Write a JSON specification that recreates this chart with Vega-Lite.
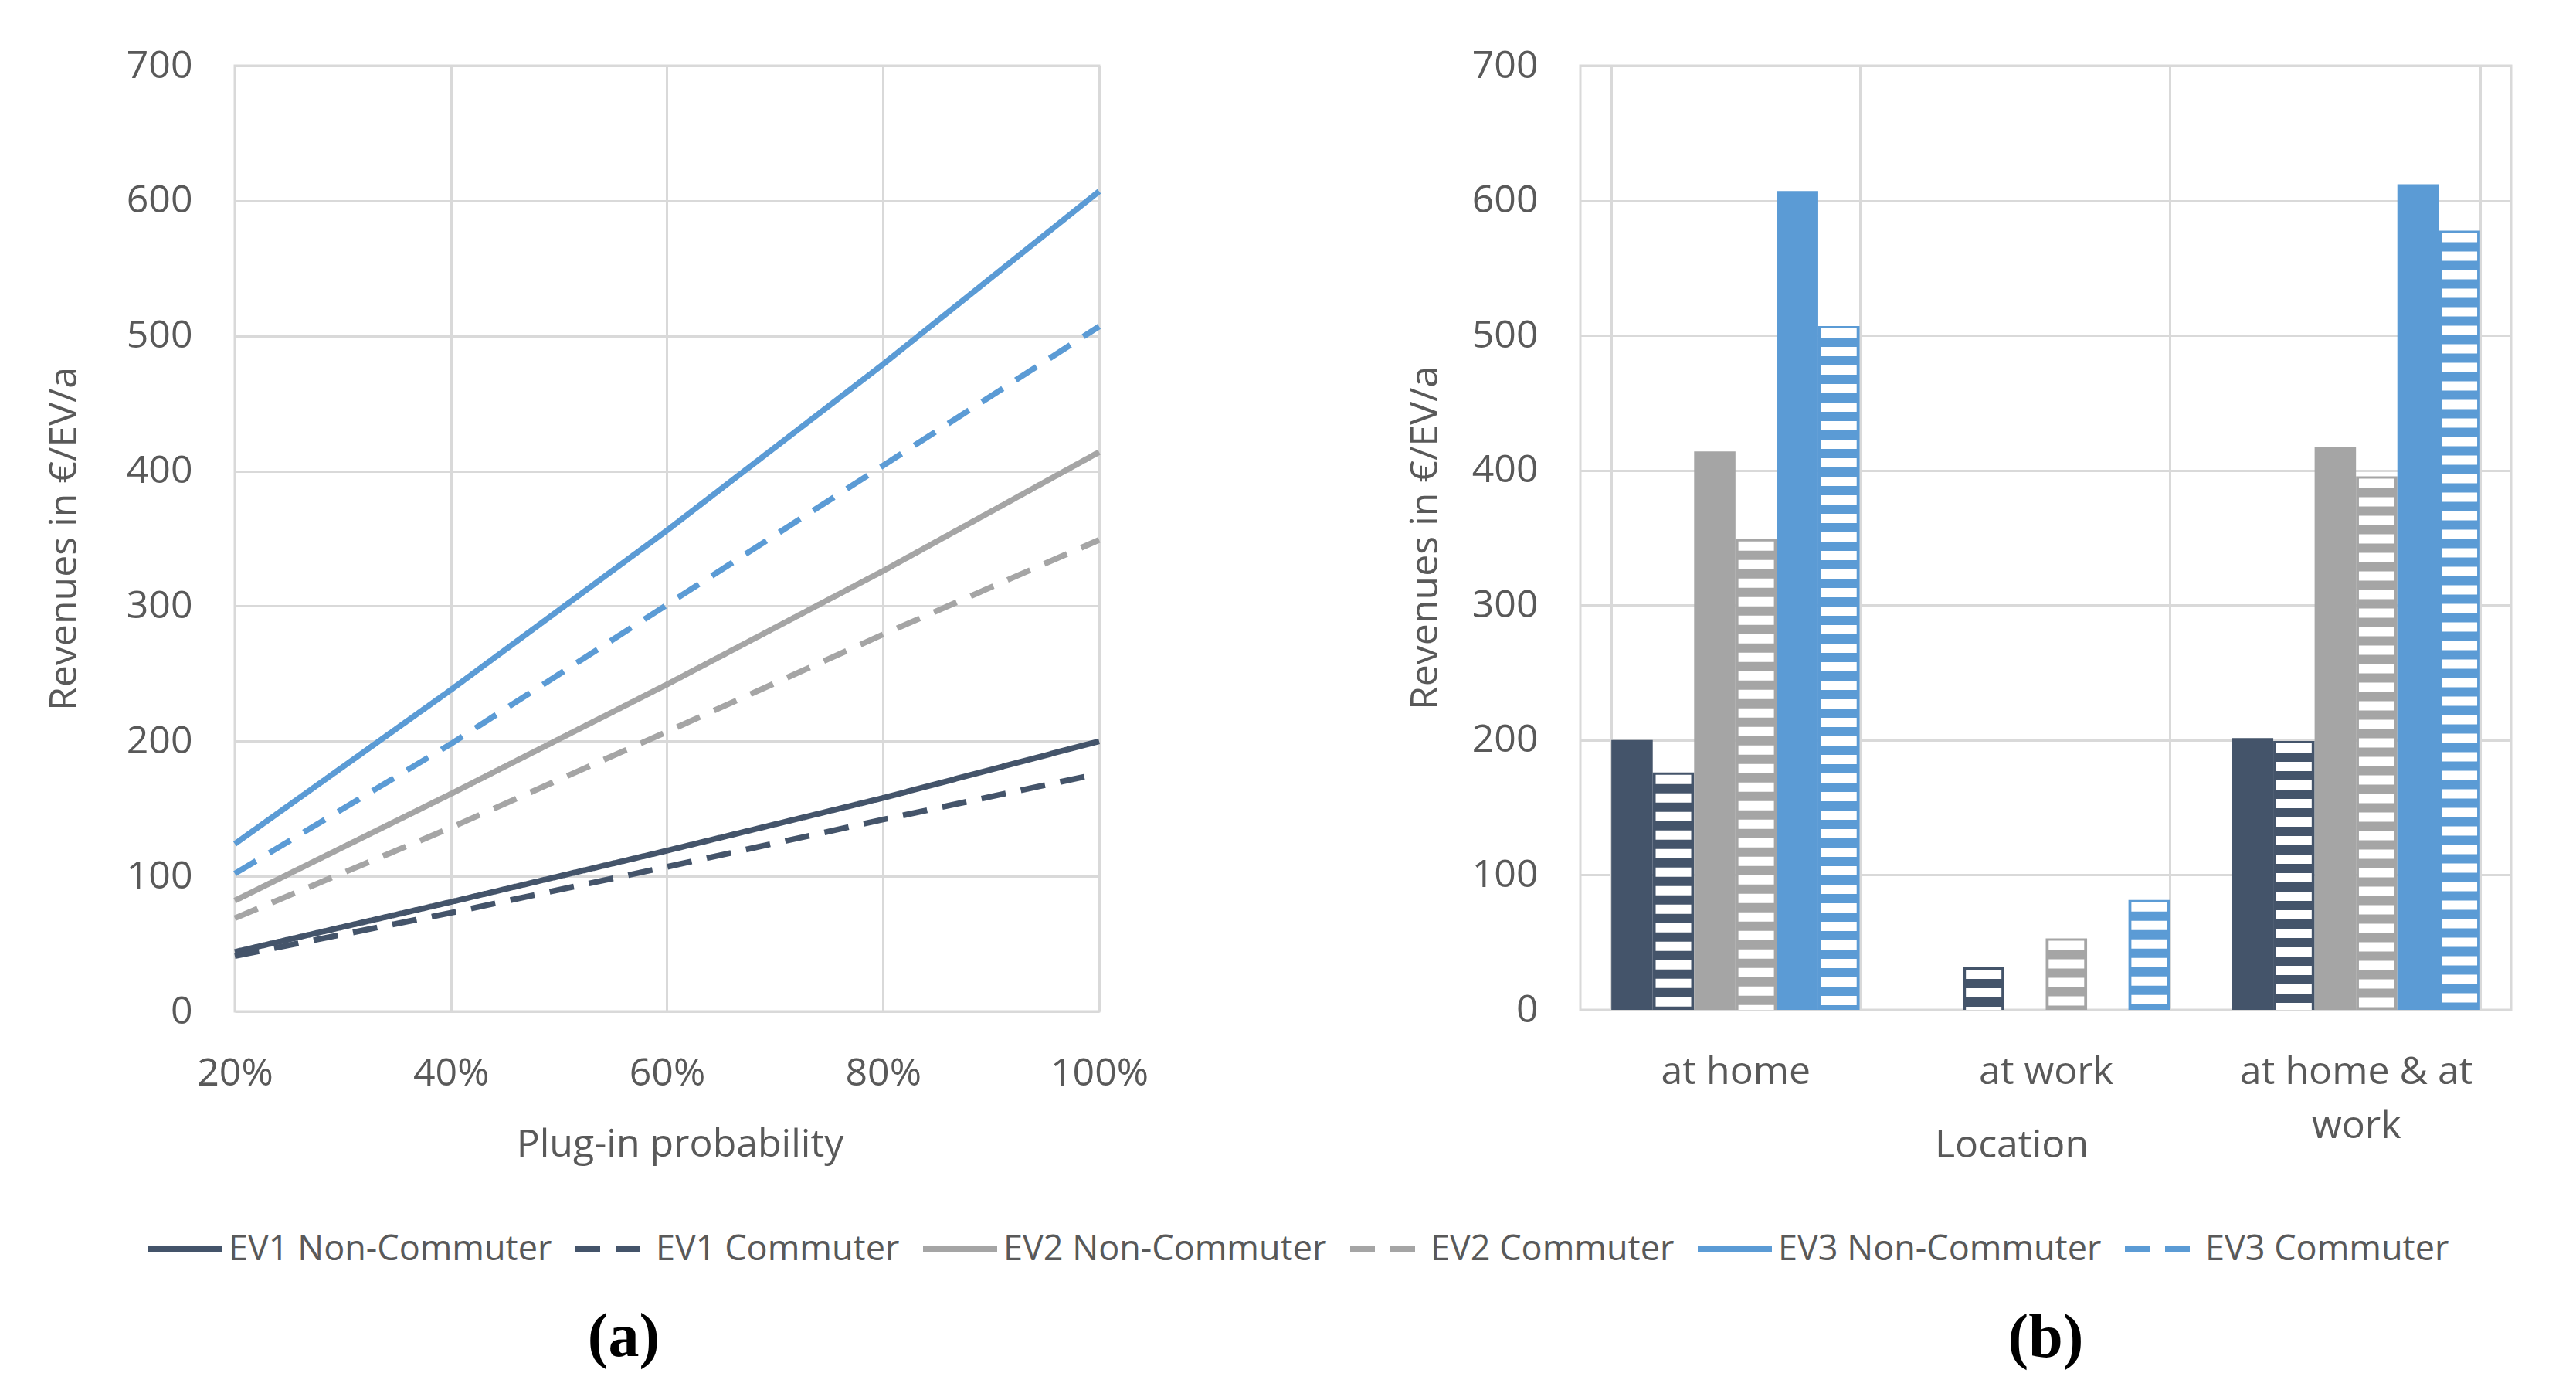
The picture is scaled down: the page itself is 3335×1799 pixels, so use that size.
{
  "$schema": "https://vega.github.io/schema/vega-lite/v6.json",
  "background": "white",
  "padding": {"left": 56, "top": 58, "right": 10, "bottom": 10},
  "datasets": {
    "lines": [
      {"p": 0.2, "series": "EV1 Non-Commuter", "v": 44},
      {"p": 0.4, "series": "EV1 Non-Commuter", "v": 81},
      {"p": 0.6, "series": "EV1 Non-Commuter", "v": 119},
      {"p": 0.8, "series": "EV1 Non-Commuter", "v": 158},
      {"p": 1.0, "series": "EV1 Non-Commuter", "v": 200},
      {"p": 0.2, "series": "EV1 Commuter", "v": 41},
      {"p": 0.4, "series": "EV1 Commuter", "v": 73},
      {"p": 0.6, "series": "EV1 Commuter", "v": 107},
      {"p": 0.8, "series": "EV1 Commuter", "v": 142},
      {"p": 1.0, "series": "EV1 Commuter", "v": 176},
      {"p": 0.2, "series": "EV2 Non-Commuter", "v": 82},
      {"p": 0.4, "series": "EV2 Non-Commuter", "v": 161},
      {"p": 0.6, "series": "EV2 Non-Commuter", "v": 242},
      {"p": 0.8, "series": "EV2 Non-Commuter", "v": 326},
      {"p": 1.0, "series": "EV2 Non-Commuter", "v": 414},
      {"p": 0.2, "series": "EV2 Commuter", "v": 69},
      {"p": 0.4, "series": "EV2 Commuter", "v": 136},
      {"p": 0.6, "series": "EV2 Commuter", "v": 207},
      {"p": 0.8, "series": "EV2 Commuter", "v": 279},
      {"p": 1.0, "series": "EV2 Commuter", "v": 349},
      {"p": 0.2, "series": "EV3 Non-Commuter", "v": 124},
      {"p": 0.4, "series": "EV3 Non-Commuter", "v": 238},
      {"p": 0.6, "series": "EV3 Non-Commuter", "v": 356},
      {"p": 0.8, "series": "EV3 Non-Commuter", "v": 479},
      {"p": 1.0, "series": "EV3 Non-Commuter", "v": 607},
      {"p": 0.2, "series": "EV3 Commuter", "v": 102},
      {"p": 0.4, "series": "EV3 Commuter", "v": 198},
      {"p": 0.6, "series": "EV3 Commuter", "v": 301},
      {"p": 0.8, "series": "EV3 Commuter", "v": 404},
      {"p": 1.0, "series": "EV3 Commuter", "v": 507}
    ],
    "bars": [
      {"loc": "at home", "series": "EV1 Non-Commuter", "v": 200, "hatch": false},
      {"loc": "at home", "series": "EV1 Commuter", "v": 176, "hatch": true},
      {"loc": "at home", "series": "EV2 Non-Commuter", "v": 414, "hatch": false},
      {"loc": "at home", "series": "EV2 Commuter", "v": 349, "hatch": true},
      {"loc": "at home", "series": "EV3 Non-Commuter", "v": 607, "hatch": false},
      {"loc": "at home", "series": "EV3 Commuter", "v": 507, "hatch": true},
      {"loc": "at work", "series": "EV1 Non-Commuter", "v": 0, "hatch": false},
      {"loc": "at work", "series": "EV1 Commuter", "v": 31.5, "hatch": true},
      {"loc": "at work", "series": "EV2 Non-Commuter", "v": 0, "hatch": false},
      {"loc": "at work", "series": "EV2 Commuter", "v": 53, "hatch": true},
      {"loc": "at work", "series": "EV3 Non-Commuter", "v": 0, "hatch": false},
      {"loc": "at work", "series": "EV3 Commuter", "v": 81.5, "hatch": true},
      {"loc": "at home & at work", "series": "EV1 Non-Commuter", "v": 201.5, "hatch": false},
      {"loc": "at home & at work", "series": "EV1 Commuter", "v": 199.3, "hatch": true},
      {"loc": "at home & at work", "series": "EV2 Non-Commuter", "v": 417.4, "hatch": false},
      {"loc": "at home & at work", "series": "EV2 Commuter", "v": 395.5, "hatch": true},
      {"loc": "at home & at work", "series": "EV3 Non-Commuter", "v": 612, "hatch": false},
      {"loc": "at home & at work", "series": "EV3 Commuter", "v": 577.7, "hatch": true}
    ]
  },
  "hconcat": [
    {
      "width": 1119,
      "height": 1224,
      "title": {"text": "(a)", "orient": "bottom", "anchor": "middle", "font": "Liberation Serif", "fontSize": 80, "fontWeight": "bold", "color": "black", "offset": 186, "dx": -56},
      "data": {"name": "lines"},
      "mark": {"type": "line", "strokeWidth": 7.5},
      "encoding": {
        "x": {
          "field": "p", "type": "quantitative",
          "scale": {"domain": [0.2, 1], "nice": false, "zero": false},
          "axis": {"values": [0.2, 0.4, 0.6, 0.8, 1], "format": ".0%", "title": "Plug-in probability", "labelPadding": 55, "labelFlush": false, "titleX": 576, "titleY": 172, "titleBaseline": "middle"}
        },
        "y": {
          "field": "v", "type": "quantitative",
          "scale": {"domain": [0, 700], "nice": false},
          "axis": {"values": [0, 100, 200, 300, 400, 500, 600, 700], "title": "Revenues in €/EV/a", "labelPadding": 55, "titlePadding": 55}
        },
        "color": {
          "field": "series", "type": "nominal", "title": null,
          "scale": {
            "domain": ["EV1 Non-Commuter", "EV1 Commuter", "EV2 Non-Commuter", "EV2 Commuter", "EV3 Non-Commuter", "EV3 Commuter"],
            "range": ["#44546A", "#44546A", "#A5A5A5", "#A5A5A5", "#5B9BD5", "#5B9BD5"]
          }
        },
        "strokeDash": {
          "field": "series", "type": "nominal", "title": null,
          "scale": {
            "domain": ["EV1 Non-Commuter", "EV1 Commuter", "EV2 Non-Commuter", "EV2 Commuter", "EV3 Non-Commuter", "EV3 Commuter"],
            "range": [[1, 0], [32, 20], [1, 0], [32, 20], [1, 0], [32, 20]]
          }
        }
      }
    },
    {
      "width": 1205,
      "height": 1222,
      "title": {"text": "(b)", "orient": "bottom", "anchor": "middle", "font": "Liberation Serif", "fontSize": 80, "fontWeight": "bold", "color": "black", "offset": 186},
      "data": {"name": "bars"},
      "encoding": {
        "x": {
          "field": "loc", "type": "nominal", "sort": null,
          "scale": {"paddingInner": 0.2, "paddingOuter": 0.1},
          "axis": {"title": "Location", "labelAngle": 0, "labelPadding": 55, "labelLineHeight": 70, "labelLimit": 1000, "tickBand": "extent", "labelExpr": "datum.label == 'at home & at work' ? ['at home & at', 'work'] : datum.label", "titleX": 558, "titleY": 175, "titleBaseline": "middle"}
        },
        "xOffset": {
          "field": "series", "type": "nominal", "sort": null,
          "scale": {"domain": ["EV1 Non-Commuter", "EV1 Commuter", "EV2 Non-Commuter", "EV2 Commuter", "EV3 Non-Commuter", "EV3 Commuter"], "paddingInner": 0, "paddingOuter": 0}
        },
        "y": {
          "field": "v", "type": "quantitative",
          "scale": {"domain": [0, 700], "nice": false},
          "axis": {"values": [0, 100, 200, 300, 400, 500, 600, 700], "title": "Revenues in €/EV/a", "labelPadding": 55, "titlePadding": 35}
        }
      },
      "layer": [
        {
          "mark": {"type": "bar"},
          "encoding": {
            "color": {"field": "series", "type": "nominal", "title": null}
          }
        },
        {
          "transform": [{"filter": "datum.hatch"}],
          "mark": {"type": "rule", "color": "white", "strokeWidth": 46, "strokeDash": [12, 12], "strokeDashOffset": 21},
          "encoding": {
            "y2": {"datum": 0}
          }
        }
      ]
    }
  ],
  "spacing": 329,
  "resolve": {"legend": {"color": "shared", "strokeDash": "shared"}},
  "config": {
    "font": "Open Sans",
    "view": {"stroke": "#D9D9D9", "strokeWidth": 3},
    "axis": {
      "labelFont": "Open Sans", "labelFontSize": 50, "labelColor": "#595959",
      "titleFont": "Open Sans", "titleFontSize": 50, "titleColor": "#595959", "titleFontWeight": "normal",
      "domain": false, "ticks": false, "tickSize": 0,
      "grid": true, "gridColor": "#D9D9D9", "gridWidth": 3
    },
    "legend": {
      "orient": "none", "legendX": -116, "legendY": 1480,
      "direction": "horizontal", "columns": 6, "columnPadding": 14,
      "symbolType": "stroke", "symbolSize": 9216, "symbolStrokeWidth": 8,
      "labelFont": "Open Sans", "labelFontSize": 45, "labelColor": "#595959", "labelOffset": 4, "labelLimit": 600
    }
  }
}
